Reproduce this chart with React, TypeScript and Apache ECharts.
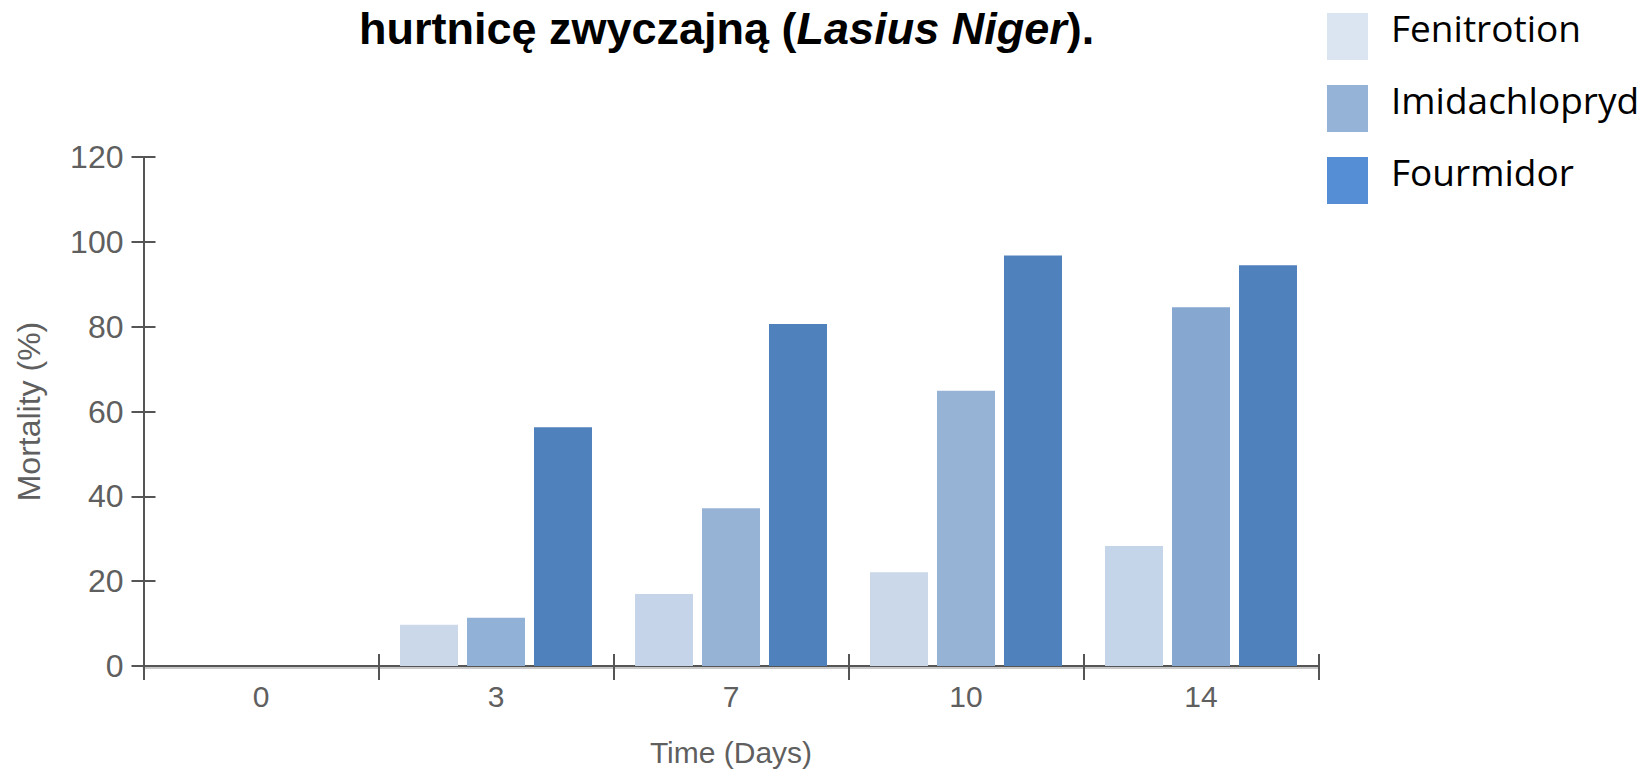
import React, { useEffect, useRef } from "react";
import * as echarts from "echarts";

const categories = ["0", "3", "7", "10", "14"];
const seriesNames = ["Fenitrotion", "Imidachlopryd", "Fourmidor"];
const fenitrotion = [0, 9.7, 17.0, 22.1, 28.3];
const imidachlopryd = [0, 11.4, 37.2, 64.9, 84.6];
const fourmidor = [0, 56.3, 80.6, 96.8, 94.5];
const yMin = 0;
const yMax = 120;
const yStep = 20;

const fenColors = ["#CAD8EA", "#CAD8EA", "#C5D4E9", "#CAD8EA", "#C4D4E9"];
const imiColors = ["#92B1D6", "#92B1D6", "#96B3D6", "#96B3D6", "#86A7D0"];
const fourColors = ["#4F81BD", "#4F81BD", "#4F81BD", "#4F81BD", "#4F81BD"];
const legendColors = ["#DBE5F1", "#95B3D7", "#558ED5"];

export default function App() {
  const ref = useRef<HTMLDivElement>(null);
  useEffect(() => {
    if (!ref.current) return;
    const chart = echarts.init(ref.current, undefined, { renderer: "svg" });
    const axisColor = "#555555";
    const labelColor = "#5f5f5f";
    const font = "Liberation Sans, Arial, sans-serif";
    const mk = (vals: number[], cols: string[]) =>
      vals.map((v, i) => ({ value: v, itemStyle: { color: cols[i] } }));
    chart.setOption({
      animation: false,
      backgroundColor: "#ffffff",
      title: {
        left: 359,
        top: 6,
        padding: 0,
        text: "{b|hurtnicę zwyczajną (}{i|Lasius Niger}{b|).}",
        textStyle: {
          rich: {
            b: { fontFamily: font, fontWeight: "bold", fontSize: 45, color: "#000" },
            i: { fontFamily: font, fontWeight: "bold", fontStyle: "italic", fontSize: 45, color: "#000" },
          },
        },
      },
      legend: {
        orient: "vertical",
        left: 1327,
        top: 9,
        padding: 0,
        itemWidth: 41,
        itemHeight: 47,
        itemGap: 21,
        icon: "rect",
        selectedMode: false,
        formatter: (name: string) => "{t|" + name + "}",
        textStyle: {
          fontFamily: "Open Sans, sans-serif",
          fontSize: 37,
          color: "#000",
          rich: {
            t: {
              fontFamily: "Open Sans, sans-serif",
              fontSize: 37,
              color: "#000",
              padding: [0, 0, 18, 18],
            },
          },
        },
        data: seriesNames.map((n, i) => ({ name: n, itemStyle: { color: legendColors[i] } })),
      },
      grid: { left: 143.5, right: 324.5, top: 157, bottom: 103.5, containLabel: false },
      xAxis: [
        {
          type: "category",
          data: categories,
          position: "bottom",
          name: "Time (Days)",
          nameLocation: "middle",
          nameGap: 71,
          nameTextStyle: { fontFamily: font, fontSize: 30, color: labelColor },
          axisLine: { show: true, lineStyle: { color: axisColor, width: 2 } },
          axisTick: { show: true, length: 14, lineStyle: { color: axisColor, width: 2 } },
          axisLabel: { margin: 15, fontFamily: font, fontSize: 30, color: labelColor },
        },
        {
          type: "category",
          data: categories,
          position: "bottom",
          axisLine: { show: false },
          axisTick: { show: true, inside: true, length: 12, lineStyle: { color: axisColor, width: 2 } },
          axisLabel: { show: false },
        },
        {
          type: "category",
          data: categories,
          position: "bottom",
          offset: 2,
          axisLine: { show: true, lineStyle: { color: "#c9c9c9", width: 2 } },
          axisTick: { show: false },
          axisLabel: { show: false },
        },
      ],
      yAxis: [
        {
          type: "value",
          min: yMin,
          max: yMax,
          interval: yStep,
          position: "left",
          name: "Mortality (%)",
          nameLocation: "middle",
          nameGap: 99,
          nameTextStyle: { fontFamily: font, fontSize: 32, color: labelColor },
          splitLine: { show: false },
          axisLine: { show: true, lineStyle: { color: axisColor, width: 2 } },
          axisTick: { show: true, length: 12, lineStyle: { color: axisColor, width: 2 } },
          axisLabel: { margin: 20, fontFamily: font, fontSize: 32, color: labelColor },
        },
        {
          type: "value",
          min: yMin,
          max: yMax,
          interval: yStep,
          position: "left",
          splitLine: { show: false },
          axisLine: { show: false },
          axisTick: { show: true, inside: true, length: 12, lineStyle: { color: axisColor, width: 2 } },
          axisLabel: { show: false },
        },
      ],
      series: [
        { name: seriesNames[0], type: "bar", data: mk(fenitrotion, fenColors), barWidth: 58, barGap: "15.5%", itemStyle: { color: legendColors[0] } },
        { name: seriesNames[1], type: "bar", data: mk(imidachlopryd, imiColors), barWidth: 58, barGap: "15.5%", itemStyle: { color: legendColors[1] } },
        { name: seriesNames[2], type: "bar", data: mk(fourmidor, fourColors), barWidth: 58, barGap: "15.5%", itemStyle: { color: legendColors[2] } },
      ],
    });
    return () => chart.dispose();
  }, []);
  return (
    <div
      ref={ref}
      style={{ position: "absolute", left: 0, top: 0, width: 1643, height: 772 }}
    />
  );
}
